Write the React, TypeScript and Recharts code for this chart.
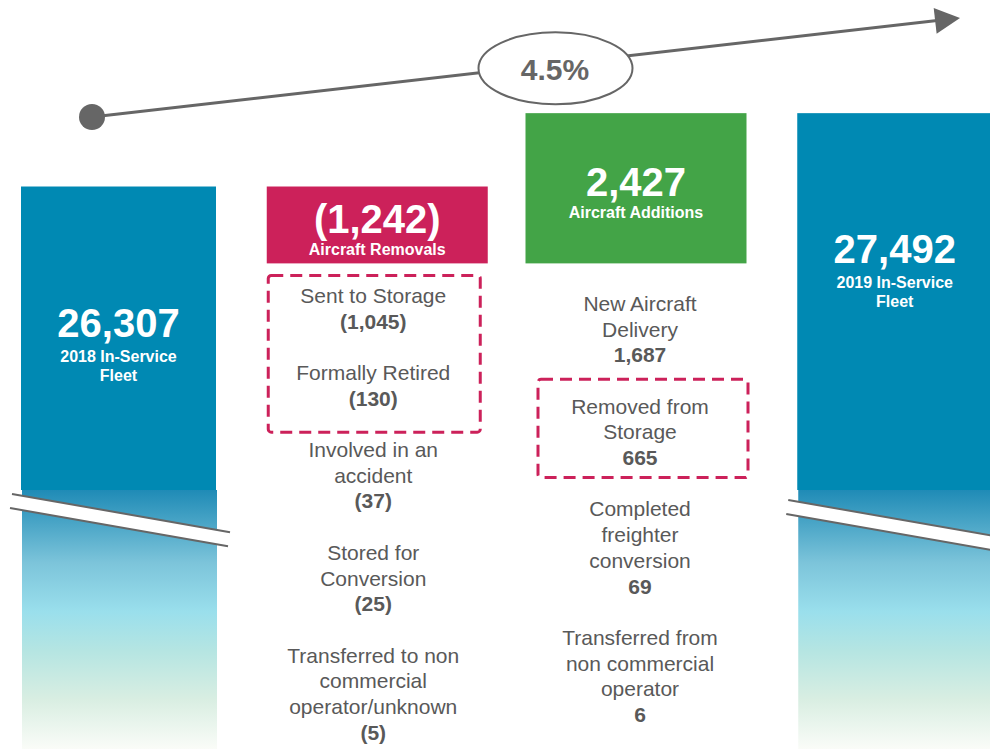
import React from 'react';
import { BarChart, Bar, XAxis, YAxis, Customized } from 'recharts';

// ---------- data ----------
const categories = ['2018 In-Service Fleet', 'Aircraft Removals', 'Aircraft Additions', '2019 In-Service Fleet'];
const fleetTitles = [['2018 In-Service', 'Fleet'], ['2019 In-Service', 'Fleet']];
const fleetValues = [26307, 27492];
const removalsTotal = 1242;
const additionsTotal = 2427;
const growthLabel = '4.5%';
const axisDomain = [17220, 29320];

const removalLabels = [
  ['Sent to Storage'],
  ['Formally Retired'],
  ['Involved in an', 'accident'],
  ['Stored for', 'Conversion'],
  ['Transferred to non', 'commercial', 'operator/unknown'],
];
const removalValues = [1045, 130, 37, 25, 5];
const removalBoxed = [0, 1];

const additionLabels = [
  ['New Aircraft', 'Delivery'],
  ['Removed from', 'Storage'],
  ['Completed', 'freighter', 'conversion'],
  ['Transferred from', 'non commercial', 'operator'],
];
const additionValues = [1687, 665, 69, 6];
const additionBoxed = [1];

const afterRemovals = fleetValues[0] - removalsTotal;

const data = [
  { name: categories[0], range: [axisDomain[0], fleetValues[0]], kind: 'fleet', fi: 0 },
  { name: categories[1], range: [afterRemovals, fleetValues[0]], kind: 'removal' },
  { name: categories[2], range: [afterRemovals, afterRemovals + additionsTotal], kind: 'addition' },
  { name: categories[3], range: [axisDomain[0], fleetValues[1]], kind: 'fleet', fi: 1 },
];

// ---------- style ----------
const FONT = '"Liberation Sans", Arial, Helvetica, sans-serif';
const BLUE = '#0089b3';
const RED = '#cc215a';
const GREEN = '#43a447';
const GREY = '#666666';
const TEXT = '#595959';
const CHART_LEFT = -11;
const CHART_W = 1035;
const CHART_H = 749;
const fmt = (v: number) => v.toLocaleString('en-US');

const ListBlock = ({ cx, top, labels, values, boxed, negative, startOff, textDx, boxDx, boxW, padTop, padBottom }: any) => {
  const LH = 25.7;
  const items: any[] = [];
  let line = 0;
  const groupFirst: number[] = [];
  const groupLast: number[] = [];
  labels.forEach((ls: string[], gi: number) => {
    groupFirst[gi] = line;
    ls.forEach((l) => {
      items.push({ t: l, bold: false, line });
      line += 1;
    });
    items.push({ t: negative ? `(${fmt(values[gi])})` : fmt(values[gi]), bold: true, line });
    groupLast[gi] = line;
    line += 2;
  });
  const yc = (ln: number) => top + startOff + ln * LH;
  const bFirst = groupFirst[boxed[0]];
  const bLast = groupLast[boxed[boxed.length - 1]];
  const by0 = yc(bFirst) - padTop;
  const by1 = yc(bLast) + padBottom;
  return (
    <g>
      <rect x={cx + boxDx - boxW / 2} y={by0} width={boxW} height={by1 - by0} rx={3} fill="none"
        stroke={RED} strokeWidth={3} strokeDasharray="12 7" />
      {items.map((it, i) => (
        <text key={i} x={cx + textDx} y={yc(it.line) + 7.5} textAnchor="middle" fontFamily={FONT}
          fontSize={21} fontWeight={it.bold ? 700 : 400} fill={TEXT}>{it.t}</text>
      ))}
    </g>
  );
};

const BarShape = (props: any) => {
  const { x, y, width, height, payload } = props;
  const cx = x + width / 2;
  const bottom = y + height;
  if (payload.kind === 'fleet') {
    const w = 195;
    const left = cx - w / 2;
    const solidEnd = bottom - 259;
    const B = payload.fi === 0 ? bottom - 255 : bottom - 249;
    const slope = 0.175;
    const xa = left - 9;
    const xb = left + w + 14;
    const ya = B;
    const yb = B + slope * (xb - xa);
    const d = 14;
    const gid = `fleetGrad${payload.fi}`;
    const titles = fleetTitles[payload.fi];
    return (
      <g>
        <defs>
          <linearGradient id={gid} gradientUnits="userSpaceOnUse" x1={0} y1={solidEnd} x2={0} y2={bottom}>
            <stop offset="0" stopColor="#1f8bb6" />
            <stop offset="0.28" stopColor="#7cc4da" />
            <stop offset="0.47" stopColor="#9adfec" />
            <stop offset="0.62" stopColor="#b5e5e2" />
            <stop offset="0.81" stopColor="#d9eee2" />
            <stop offset="1" stopColor="#fafcf8" />
          </linearGradient>
        </defs>
        <rect x={left} y={y} width={w} height={solidEnd - y} fill={BLUE} />
        <rect x={left + 1} y={solidEnd} width={w} height={bottom - solidEnd} fill={`url(#${gid})`} />
        <polygon points={`${xa},${ya} ${xb},${yb} ${xb - 2},${yb + d} ${xa - 2},${ya + d}`} fill="#ffffff" />
        <line x1={xa} y1={ya} x2={xb} y2={yb} stroke={GREY} strokeWidth={2} />
        <line x1={xa - 2} y1={ya + d} x2={xb - 2} y2={yb + d} stroke={GREY} strokeWidth={2} />
        <text x={cx} y={y + 150} textAnchor="middle" fontFamily={FONT} fontSize={40} fontWeight={700} fill="#fff">
          {fmt(fleetValues[payload.fi])}
        </text>
        <text x={cx} y={y + 175} textAnchor="middle" fontFamily={FONT} fontSize={16} fontWeight={700} fill="#fff">{titles[0]}</text>
        <text x={cx} y={y + 194} textAnchor="middle" fontFamily={FONT} fontSize={16} fontWeight={700} fill="#fff">{titles[1]}</text>
      </g>
    );
  }
  const isRemoval = payload.kind === 'removal';
  const w = 221;
  const left = cx - w / 2;
  const mid = y + height / 2;
  return (
    <g>
      <rect x={left} y={y} width={w} height={height} fill={isRemoval ? RED : GREEN} />
      <text x={cx} y={mid + 8} textAnchor="middle" fontFamily={FONT} fontSize={40} fontWeight={700} fill="#fff">
        {isRemoval ? `(${fmt(removalsTotal)})` : fmt(additionsTotal)}
      </text>
      <text x={cx} y={mid + 30} textAnchor="middle" fontFamily={FONT} fontSize={16} fontWeight={700} fill="#fff">
        {payload.name}
      </text>
      {isRemoval ? (
        <ListBlock cx={cx} top={bottom} labels={removalLabels} values={removalValues} boxed={removalBoxed}
          negative startOff={32} textDx={-4} boxDx={-3} boxW={212} padTop={20} padBottom={34} />
      ) : (
        <ListBlock cx={cx} top={bottom} labels={additionLabels} values={additionValues} boxed={additionBoxed}
          negative={false} startOff={40} textDx={4} boxDx={7} boxW={210} padTop={27} padBottom={20} />
      )}
    </g>
  );
};

const Decor = () => {
  const p0 = { x: 92, y: 117 };
  const tip = { x: 960, y: 18 };
  const dx = tip.x - p0.x;
  const dy = tip.y - p0.y;
  const len = Math.sqrt(dx * dx + dy * dy);
  const ux = dx / len;
  const uy = dy / len;
  const bx = tip.x - ux * 25;
  const by = tip.y - uy * 25;
  const px = -uy;
  const py = ux;
  const hw = 13;
  return (
    <g transform={`translate(${-CHART_LEFT},0)`}>
      <line x1={p0.x} y1={p0.y} x2={bx + ux * 2} y2={by + uy * 2} stroke={GREY} strokeWidth={3} />
      <circle cx={p0.x} cy={p0.y} r={13} fill={GREY} />
      <polygon points={`${tip.x},${tip.y} ${bx + px * hw},${by + py * hw} ${bx - px * hw},${by - py * hw}`} fill={GREY} />
      <ellipse cx={555.5} cy={68.3} rx={77} ry={36} fill="#fff" stroke={GREY} strokeWidth={2} />
      <text x={555} y={80} textAnchor="middle" fontFamily={FONT} fontSize={30} fontWeight={700} fill={GREY}>{growthLabel}</text>
    </g>
  );
};

export default function App() {
  return (
    <div style={{ position: 'absolute', left: 0, top: 0, width: 990, height: 749, overflow: 'hidden', background: '#fff' }}>
      <div style={{ position: 'absolute', left: CHART_LEFT, top: 0 }}>
        <BarChart width={CHART_W} height={CHART_H} data={data} margin={{ top: 0, right: 0, bottom: 0, left: 0 }} barCategoryGap={0}>
          <XAxis dataKey="name" hide />
          <YAxis type="number" domain={axisDomain} allowDataOverflow hide />
          <Bar dataKey="range" isAnimationActive={false} shape={(p: any) => <BarShape {...p} />} />
          <Customized component={Decor} />
        </BarChart>
      </div>
    </div>
  );
}
